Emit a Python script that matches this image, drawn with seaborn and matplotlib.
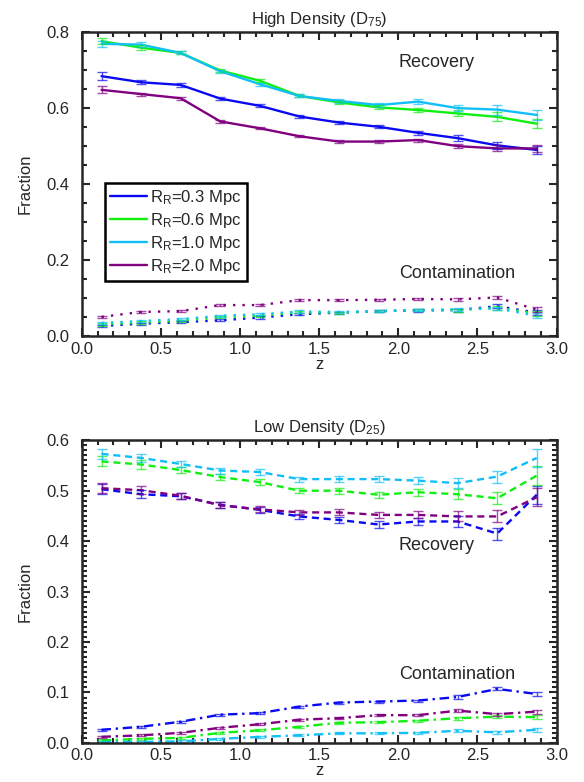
import numpy as np
import pandas as pd
import matplotlib
matplotlib.use('Agg')
import matplotlib.pyplot as plt
from matplotlib.ticker import MultipleLocator, FormatStrFormatter
import seaborn as sns

z = [0.125, 0.375, 0.625, 0.875, 1.125, 1.375, 1.625, 1.875, 2.125, 2.375, 2.625, 2.875]
radii = ['0.3', '0.6', '1.0', '2.0']
colors = ['#0a0af0', '#10f010', '#10bff8', '#800080']

# high density (D75) recovery
hi_rec = {
    '0.3': [0.684, 0.668, 0.661, 0.625, 0.606, 0.578, 0.562, 0.551, 0.535, 0.521, 0.502, 0.490],
    '0.6': [0.776, 0.759, 0.745, 0.699, 0.672, 0.632, 0.615, 0.602, 0.595, 0.586, 0.577, 0.559],
    '1.0': [0.769, 0.767, 0.745, 0.697, 0.663, 0.632, 0.619, 0.608, 0.617, 0.600, 0.596, 0.582],
    '2.0': [0.648, 0.637, 0.626, 0.565, 0.547, 0.526, 0.512, 0.512, 0.516, 0.500, 0.494, 0.494],
}
hi_rec_err = {
    '0.3': [0.010, 0.005, 0.005, 0.004, 0.004, 0.004, 0.004, 0.004, 0.005, 0.007, 0.010, 0.010],
    '0.6': [0.008, 0.006, 0.004, 0.004, 0.004, 0.004, 0.005, 0.005, 0.006, 0.008, 0.012, 0.012],
    '1.0': [0.008, 0.006, 0.004, 0.004, 0.004, 0.004, 0.006, 0.006, 0.007, 0.008, 0.013, 0.014],
    '2.0': [0.009, 0.004, 0.004, 0.004, 0.003, 0.003, 0.004, 0.004, 0.004, 0.006, 0.008, 0.010],
}
# high density contamination
hi_con = {
    '0.3': [0.027, 0.033, 0.037, 0.042, 0.049, 0.058, 0.062, 0.066, 0.068, 0.069, 0.079, 0.062],
    '0.6': [0.031, 0.036, 0.041, 0.050, 0.054, 0.063, 0.062, 0.066, 0.069, 0.069, 0.075, 0.060],
    '1.0': [0.035, 0.040, 0.045, 0.054, 0.058, 0.065, 0.064, 0.066, 0.069, 0.071, 0.073, 0.054],
    '2.0': [0.051, 0.064, 0.066, 0.082, 0.082, 0.095, 0.095, 0.096, 0.098, 0.097, 0.102, 0.070],
}
hi_con_err = [0.003, 0.003, 0.003, 0.003, 0.003, 0.003, 0.003, 0.003, 0.003, 0.004, 0.005, 0.006]

# low density (D25) recovery
lo_rec = {
    '0.3': [0.503, 0.493, 0.489, 0.472, 0.462, 0.449, 0.442, 0.433, 0.439, 0.439, 0.415, 0.492],
    '0.6': [0.558, 0.552, 0.541, 0.527, 0.517, 0.500, 0.500, 0.492, 0.497, 0.493, 0.485, 0.530],
    '1.0': [0.573, 0.565, 0.553, 0.540, 0.537, 0.523, 0.523, 0.523, 0.520, 0.515, 0.528, 0.565],
    '2.0': [0.505, 0.501, 0.490, 0.471, 0.463, 0.457, 0.457, 0.452, 0.452, 0.449, 0.449, 0.487],
}
lo_rec_err = [0.010, 0.008, 0.006, 0.006, 0.006, 0.005, 0.006, 0.006, 0.007, 0.010, 0.012, 0.018]
# low density contamination
lo_con = {
    '0.3': [0.026, 0.032, 0.042, 0.056, 0.059, 0.072, 0.080, 0.082, 0.084, 0.091, 0.107, 0.097],
    '0.6': [0.005, 0.008, 0.010, 0.020, 0.025, 0.032, 0.040, 0.041, 0.044, 0.049, 0.052, 0.051],
    '1.0': [0.002, 0.002, 0.003, 0.008, 0.012, 0.015, 0.019, 0.019, 0.020, 0.024, 0.021, 0.026],
    '2.0': [0.012, 0.015, 0.020, 0.030, 0.037, 0.046, 0.049, 0.055, 0.055, 0.064, 0.057, 0.062],
}
lo_con_err = [0.002, 0.002, 0.002, 0.002, 0.002, 0.002, 0.002, 0.002, 0.002, 0.003, 0.003, 0.004]

sns.set_style('ticks')
plt.rcParams['font.family'] = ['Liberation Sans', 'DejaVu Sans']
plt.rcParams['mathtext.fontset'] = 'custom'
plt.rcParams['mathtext.rm'] = 'Liberation Sans'
plt.rcParams['mathtext.it'] = 'Liberation Sans'
plt.rcParams['font.size'] = 11


def to_frame(vals):
    rows = []
    for r in radii:
        for zz, v in zip(z, vals[r]):
            rows.append({'z': zz, 'frac': v, 'R': r})
    return pd.DataFrame(rows)


def draw(ax, vals, errs, ls):
    df = to_frame(vals)
    sns.lineplot(data=df, x='z', y='frac', hue='R', hue_order=radii,
                 palette=colors, linestyle=ls, linewidth=1.7,
                 legend=False, ax=ax)
    for r, c in zip(radii, colors):
        e = errs[r] if isinstance(errs, dict) else errs
        ax.errorbar(z, vals[r], yerr=e, fmt='none', ecolor=c, alpha=0.7,
                    elinewidth=1.0, capsize=3.5, capthick=1.0)


def style_axes(ax, ymax, ymaj, ymin):
    ax.set_xlim(0, 3.0)
    ax.set_ylim(0, ymax)
    ax.xaxis.set_major_locator(MultipleLocator(0.5))
    ax.xaxis.set_minor_locator(MultipleLocator(0.1))
    ax.yaxis.set_major_locator(MultipleLocator(ymaj))
    ax.yaxis.set_minor_locator(MultipleLocator(ymin))
    ax.tick_params(which='both', direction='in', top=True, right=True, width=1.5)
    ax.tick_params(which='major', length=6, labelsize=12)
    ax.tick_params(which='minor', length=3.5)
    ax.tick_params(axis='y', which='major', pad=9)
    ax.tick_params(axis='x', which='major', pad=4)
    for s in ax.spines.values():
        s.set_linewidth(1.8)
    ax.xaxis.set_major_formatter(FormatStrFormatter('%.1f'))
    ax.yaxis.set_major_formatter(FormatStrFormatter('%.1f'))
    ax.set_xlabel('z', fontsize=12, labelpad=0)
    ax.set_ylabel('Fraction', fontsize=12, labelpad=10)


fig = plt.figure(figsize=(5.84, 7.82), dpi=100)
ax1 = fig.add_axes([0.140, 0.570, 0.813, 0.389])
ax2 = fig.add_axes([0.140, 0.050, 0.813, 0.387])

draw(ax1, hi_rec, hi_rec_err, '-')
draw(ax1, hi_con, hi_con_err, (0, (1, 3)))
style_axes(ax1, 0.8, 0.2, 0.05)
ax1.set_title('High Density (D$_{75}$)', fontsize=12, pad=6)
ax1.text(2.24, 0.72, 'Recovery', ha='center', va='center', fontsize=13)
ax1.text(2.37, 0.164, 'Contamination', ha='center', va='center', fontsize=13)

handles = ax1.get_lines()[:4]
labels = [r'R$_\mathrm{R}$=' + r + ' Mpc' for r in radii]
leg = ax1.legend(handles, labels, loc='upper left', bbox_to_anchor=(0.05, 0.505),
                 frameon=True, fancybox=False, fontsize=12, handlelength=2.2,
                 handletextpad=0.2, borderpad=0.3, labelspacing=0.25,
                 borderaxespad=0)
leg.get_frame().set_edgecolor('black')
leg.get_frame().set_linewidth(1.8)
leg.get_frame().set_alpha(1)

draw(ax2, lo_rec, lo_rec_err, (0, (3, 2)))
draw(ax2, lo_con, lo_con_err, (0, (4, 2, 1, 2)))
style_axes(ax2, 0.6, 0.1, 0.01)
ax2.set_title('Low Density (D$_{25}$)', fontsize=12, pad=6)
ax2.text(2.24, 0.392, 'Recovery', ha='center', va='center', fontsize=13)
ax2.text(2.37, 0.135, 'Contamination', ha='center', va='center', fontsize=13)

fig.savefig('out.png', dpi=100)
